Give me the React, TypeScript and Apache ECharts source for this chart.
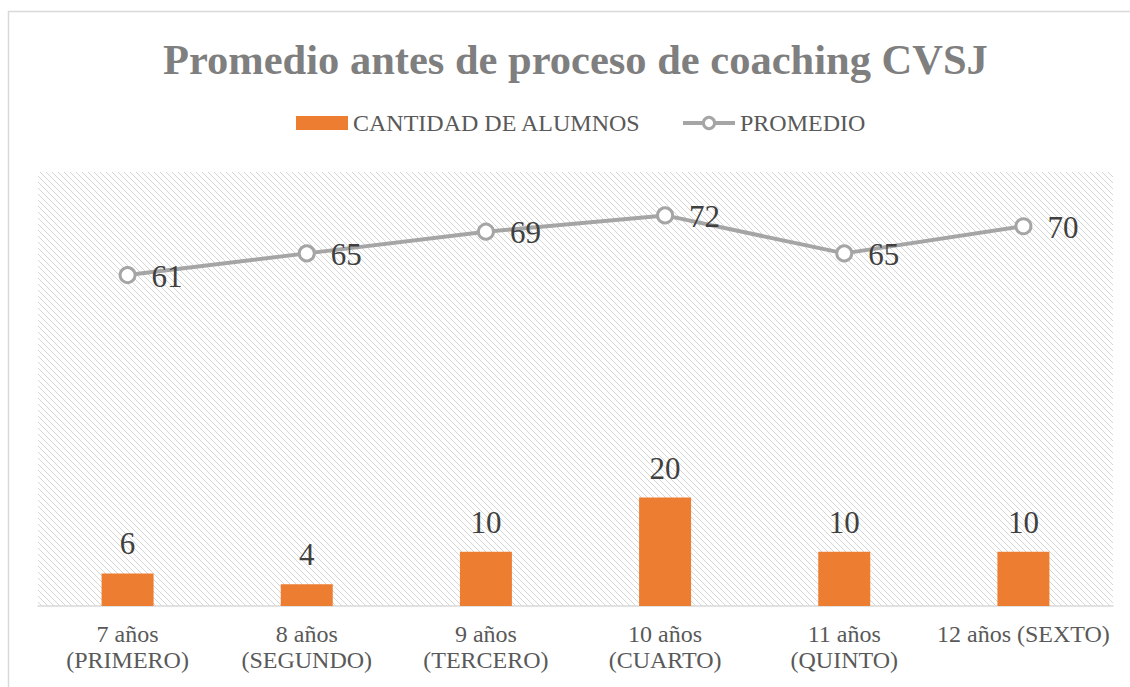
import React, { useEffect, useRef } from "react";
import * as echarts from "echarts";

const categories = [
  "7 años\n(PRIMERO)",
  "8 años\n(SEGUNDO)",
  "9 años\n(TERCERO)",
  "10 años\n(CUARTO)",
  "11 años\n(QUINTO)",
  "12 años (SEXTO)",
];
const cantidadAlumnos = [6, 4, 10, 20, 10, 10];
const promedio = [61, 65, 69, 72, 65, 70];

const SERIF = "Liberation Serif";

function makeHatch(): HTMLCanvasElement {
  const c = document.createElement("canvas");
  c.width = 6;
  c.height = 6;
  const ctx = c.getContext("2d")!;
  ctx.fillStyle = "#ffffff";
  ctx.fillRect(0, 0, 6, 6);
  ctx.fillStyle = "#d6d6d6";
  for (let i = 0; i < 6; i++) {
    ctx.fillRect(i, i, 1, 1);
  }
  return c;
}

export default function App() {
  const ref = useRef<HTMLDivElement>(null);
  useEffect(() => {
    if (!ref.current) return;
    const chart = echarts.init(ref.current, undefined, { renderer: "svg" });
    const gridLeft = 38;
    const gridRight = 1113;
    const gridTop = 172;
    const gridBottom = 606;
    chart.setOption({
      animation: false,
      backgroundColor: "#ffffff",
      textStyle: { fontFamily: SERIF },
      title: {
        text: "Promedio antes de proceso de coaching CVSJ",
        left: 158,
        top: 33,
        textStyle: {
          fontFamily: SERIF,
          fontWeight: "bold",
          fontSize: 42.5,
          color: "#7f7f7f",
        },
      },
      legend: {
        top: 106,
        left: 291,
        itemGap: 40,
        itemWidth: 52,
        itemHeight: 14,
        textStyle: { fontFamily: SERIF, fontSize: 24, color: "#595959" },
        data: [
          { name: "CANTIDAD DE ALUMNOS", icon: "rect" },
          {
            name: "PROMEDIO",
            itemStyle: { color: "#ffffff", borderColor: "#a5a5a5", borderWidth: 3 },
            lineStyle: { color: "#a5a5a5", width: 4 },
          },
        ],
      },
      graphic: [
        {
          type: "rect",
          silent: true,
          z: -10,
          shape: { x: 8.5, y: 11.5, width: 1140, height: 700 },
          style: { fill: "none", stroke: "#d9d9d9", lineWidth: 1.5 },
        },
        {
          type: "rect",
          silent: true,
          z: -5,
          shape: {
            x: gridLeft,
            y: gridTop,
            width: gridRight - gridLeft,
            height: gridBottom - gridTop,
          },
          style: { fill: { image: makeHatch(), repeat: "repeat" } as any },
        },
      ],
      grid: {
        left: gridLeft,
        right: 1130 - gridRight,
        top: gridTop,
        bottom: 687 - gridBottom,
        containLabel: false,
      },
      xAxis: {
        type: "category",
        data: categories,
        axisLine: { lineStyle: { color: "#d9d9d9", width: 1.5 } },
        axisTick: { show: false },
        axisLabel: {
          interval: 0,
          margin: 15,
          fontFamily: SERIF,
          fontSize: 24,
          color: "#595959",
          lineHeight: 26,
        },
      },
      yAxis: {
        type: "value",
        min: 0,
        max: 80,
        show: false,
        splitLine: { show: false },
      },
      series: [
        {
          name: "CANTIDAD DE ALUMNOS",
          type: "bar",
          data: cantidadAlumnos,
          barWidth: 52,
          itemStyle: { color: "#ed7d31" },
          label: {
            show: true,
            position: "top",
            distance: 14,
            fontFamily: SERIF,
            fontSize: 31,
            color: "#404040",
          },
        },
        {
          name: "PROMEDIO",
          type: "line",
          data: promedio,
          symbol: "circle",
          symbolSize: 15,
          lineStyle: { color: "#a5a5a5", width: 4 },
          itemStyle: { color: "#ffffff", borderColor: "#a5a5a5", borderWidth: 3 },
          label: {
            show: true,
            position: "right",
            distance: 15,
            offset: [0, 1],
            fontFamily: SERIF,
            fontSize: 31,
            color: "#404040",
          },
        },
      ],
    });
    return () => chart.dispose();
  }, []);
  return (
    <div
      ref={ref}
      style={{ position: "absolute", left: 0, top: 0, width: 1130, height: 687 }}
    />
  );
}
